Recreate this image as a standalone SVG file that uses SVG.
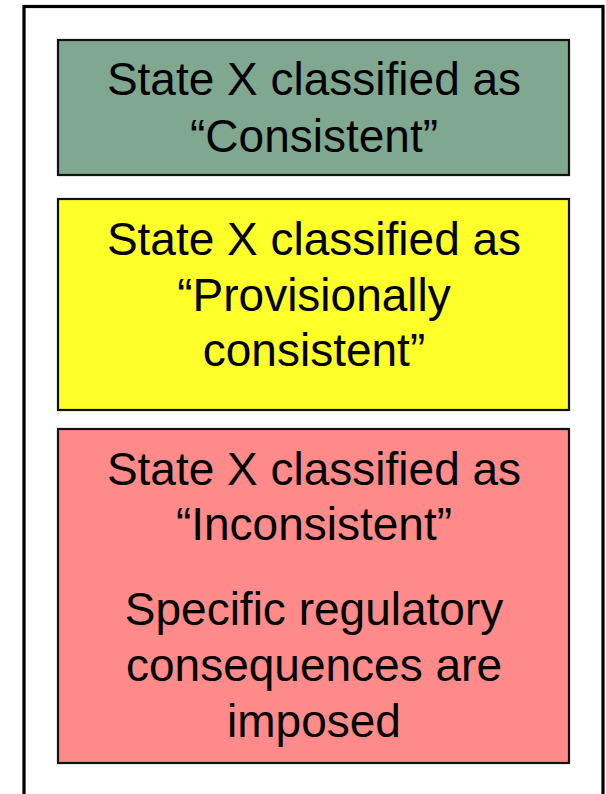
<svg xmlns="http://www.w3.org/2000/svg" width="606" height="794" viewBox="0 0 606 794">
  <style>
    .box { stroke: #111; stroke-width: 2.2; }
    .t { font-family: "Liberation Sans", Arial, sans-serif; font-size: 46px; fill: #000; text-anchor: middle; }
  </style>
  <rect width="606" height="794" fill="#fff"/>
  <g id="frame">
    <rect x="24" y="6.5" width="579" height="800" fill="none" stroke="#000" stroke-width="3.2"/>
  </g>
  <g id="consistent">
    <rect class="box" x="58" y="40" width="511" height="135" fill="#80a891"/>
    <text class="t" x="314" y="95">State X classified as</text>
    <text class="t" x="314" y="151.5">“Consistent”</text>
  </g>
  <g id="provisional">
    <rect class="box" x="58" y="199" width="511" height="211" fill="#ffff2a"/>
    <text class="t" x="314" y="255">State X classified as</text>
    <text class="t" x="314" y="310.5">“Provisionally</text>
    <text class="t" x="314" y="366">consistent”</text>
  </g>
  <g id="inconsistent">
    <rect class="box" x="58" y="429" width="511" height="334" fill="#ff8a8a"/>
    <text class="t" x="314" y="485">State X classified as</text>
    <text class="t" x="314" y="540">“Inconsistent”</text>
    <text class="t" x="314" y="625">Specific regulatory</text>
    <text class="t" x="314" y="681">consequences are</text>
    <text class="t" x="314" y="736.5">imposed</text>
  </g>
  <g id="connectors"/>
</svg>
